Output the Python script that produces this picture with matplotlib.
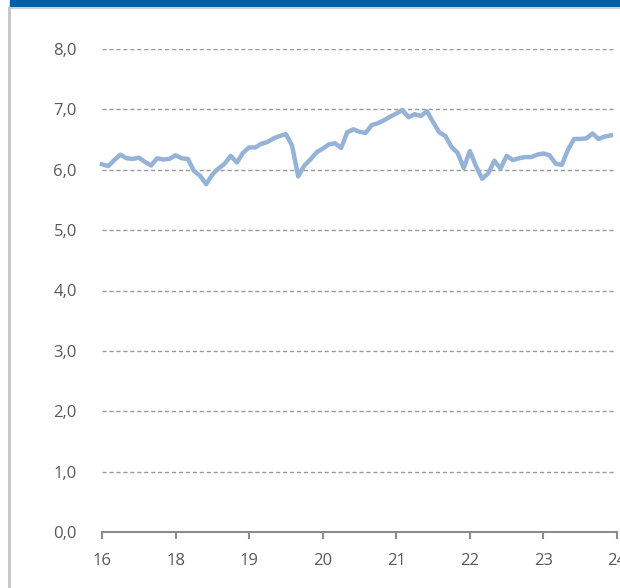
import numpy as np
import matplotlib.pyplot as plt
from matplotlib.patches import Rectangle
from matplotlib.lines import Line2D

# monthly values, tick every 12 points
values = [6.09, 6.06, 6.16, 6.25, 6.19, 6.18, 6.20, 6.13, 6.07, 6.19,
          6.17, 6.18, 6.24, 6.19, 6.18, 5.98, 5.90, 5.76, 5.92, 6.02,
          6.10, 6.23, 6.12, 6.28, 6.37, 6.37, 6.43, 6.46, 6.52, 6.56,
          6.59, 6.40, 5.89, 6.07, 6.17, 6.29, 6.35, 6.42, 6.44, 6.36,
          6.62, 6.67, 6.63, 6.61, 6.74, 6.77, 6.82, 6.88, 6.93, 6.99,
          6.87, 6.92, 6.89, 6.97, 6.79, 6.62, 6.56, 6.38, 6.28, 6.03,
          6.31, 6.06, 5.85, 5.94, 6.15, 6.02, 6.23, 6.16, 6.19, 6.21,
          6.21, 6.25, 6.27, 6.24, 6.10, 6.08, 6.33, 6.51, 6.51, 6.52,
          6.60, 6.51, 6.55, 6.57]
tick_labels = ['16', '18', '19', '20', '21', '22', '23', '24']
y_ticks = [0, 1, 2, 3, 4, 5, 6, 7, 8]

W, H = 620, 588
fig = plt.figure(figsize=(W / 100, H / 100), dpi=100)
plt.rcParams['font.family'] = ['Open Sans', 'DejaVu Sans']

# frame decorations
fig.patches.append(Rectangle((10 / W, 1 - 7 / H), 1, 7 / H, transform=fig.transFigure,
                             color='#005DA9', zorder=0))
fig.lines.append(Line2D([9 / W, 1], [1 - 8 / H, 1 - 8 / H], transform=fig.transFigure,
                        color='#D0D0D0', lw=1.5))
fig.lines.append(Line2D([9 / W, 9 / W], [0, 1 - 8 / H], transform=fig.transFigure,
                        color='#C4C4C4', lw=2))

left, right = 102 / W, 617 / W
bottom, top = (H - 532) / H, (H - 49) / H
ax = fig.add_axes([left, bottom, right - left, top - bottom])

x = np.arange(len(values)) / 12
ax.plot(x, values, color='#95B3D7', lw=3.2, solid_joinstyle='round', zorder=3, clip_on=False)

ax.set_xlim(0, 7)
ax.set_ylim(0, 8)
ax.set_yticks(y_ticks)
ax.set_yticklabels([f'{v:.1f}'.replace('.', ',') for v in y_ticks])
ax.set_xticks(range(len(tick_labels)))
ax.set_xticklabels(tick_labels)

for v in y_ticks[1:]:
    ax.axhline(v, xmax=(615 - 102) / (617 - 102), color='#9A9A9A', lw=1,
               ls=(0, (3, 2)), zorder=1)

for s in ['top', 'right', 'left']:
    ax.spines[s].set_visible(False)
ax.spines['bottom'].set_color('#8C8C8C')
ax.spines['bottom'].set_linewidth(1.5)
ax.tick_params(axis='y', length=0, pad=18, labelsize=12, labelcolor='#595959')
ax.tick_params(axis='x', length=5, width=1.5, color='#8C8C8C', pad=10,
               labelsize=12, labelcolor='#595959', direction='out')

fig.savefig('out.png', dpi=100)
